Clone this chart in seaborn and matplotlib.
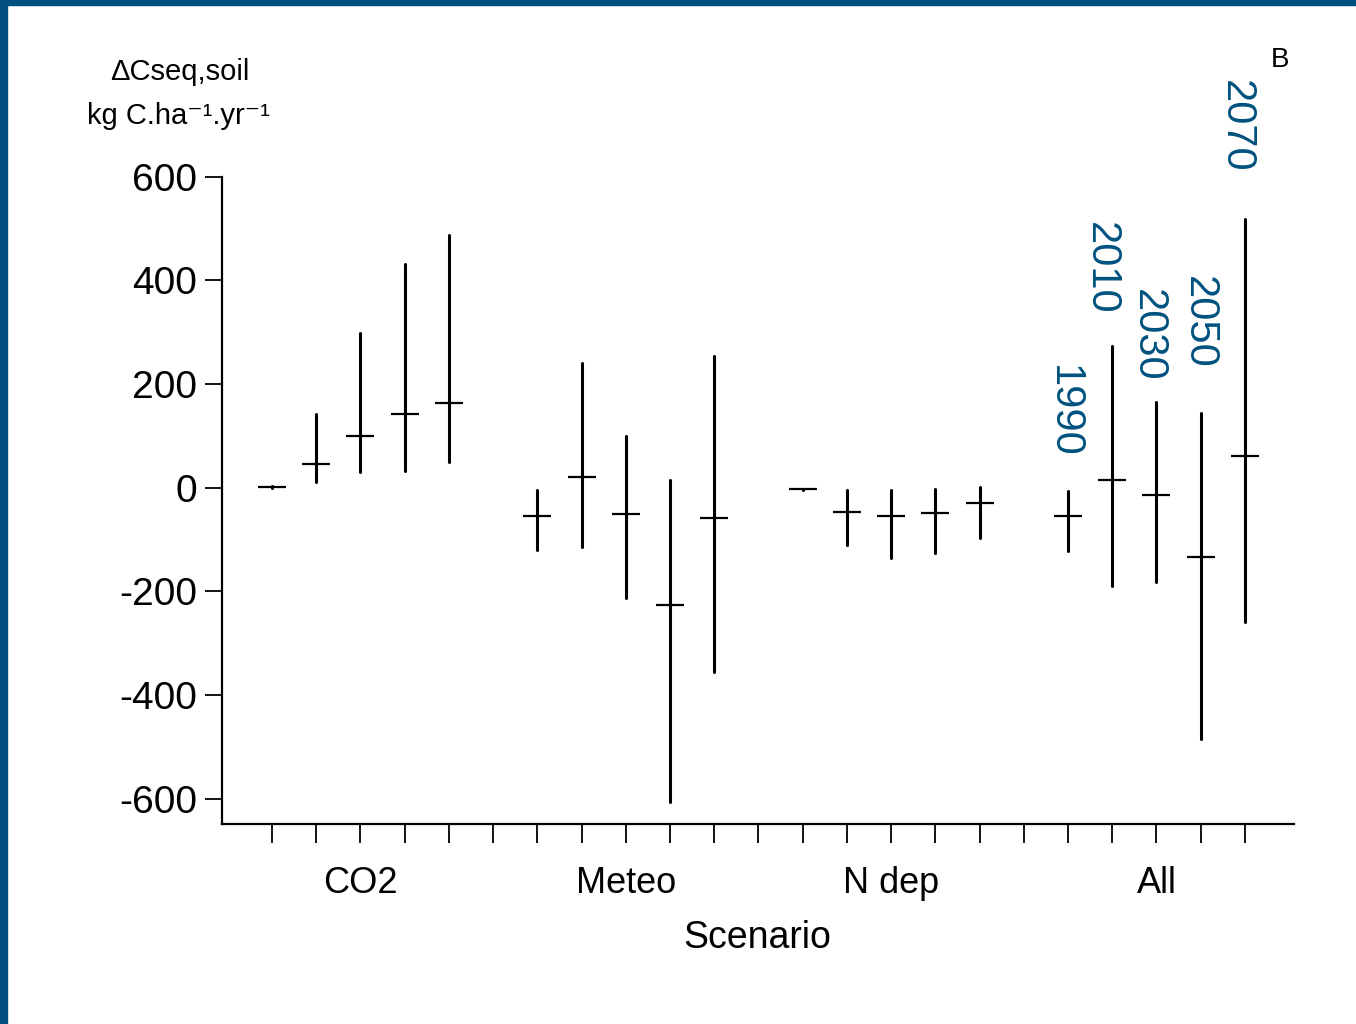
import numpy as np
import pandas as pd
import matplotlib.pyplot as plt
import seaborn as sns
from matplotlib.patches import Rectangle

# values (kg C/ha/yr)
groups = ["CO2", "Meteo", "N dep", "All"]

co2_mid = [2, 46, 99, 142, 164]
co2_low = [0, 11, 30, 33, 50]
co2_high = [3, 142, 299, 432, 488]

meteo_mid = [-54, 21, -50, -226, -59]
meteo_low = [-121, -115, -213, -606, -355]
meteo_high = [-5, 241, 99, 14, 254]

ndep_mid = [-3, -46, -54, -48, -30]
ndep_low = [-4, -110, -136, -126, -97]
ndep_high = [-2, -5, -5, -3, 1]

all_mid = [-55, 15, -15, -134, 61]
all_low = [-123, -189, -182, -484, -260]
all_high = [-6, 273, 166, 145, 519]

years = ["1990", "2010", "2030", "2050", "2070"]

y_ticks = [-600, -400, -200, 0, 200, 400, 600]

sns.set_style("ticks", {"axes.edgecolor": "black", "text.color": "black",
                        "xtick.color": "black", "ytick.color": "black",
                        "axes.labelcolor": "black"})
plt.rcParams["font.family"] = ["Liberation Sans", "DejaVu Sans"]
plt.rcParams["axes.unicode_minus"] = False

mids = [co2_mid, meteo_mid, ndep_mid, all_mid]
lows = [co2_low, meteo_low, ndep_low, all_low]
highs = [co2_high, meteo_high, ndep_high, all_high]

rows = []
for g, name in enumerate(groups):
    for k in range(5):
        rows.append({"group": name, "pos": g * 6 + k, "mid": mids[g][k],
                     "low": lows[g][k], "high": highs[g][k]})
df = pd.DataFrame(rows)
ranges = df.melt(id_vars=["group", "pos"], value_vars=["low", "high"], value_name="value")

fig = plt.figure(figsize=(13.56, 10.24), dpi=100)
ax = fig.add_axes([0.1637, 0.1953, 0.7906, 0.6321])

# min-max ranges as vertical segments, mean as a short horizontal dash
sns.lineplot(data=ranges, x="pos", y="value", units="pos", estimator=None,
             sort=False, color="black", lw=2.2, ax=ax, legend=False)
sns.scatterplot(data=df, x="pos", y="mid", marker="_", s=420, color="black",
                linewidth=1.6, ax=ax, legend=False, zorder=3)

# year labels above the "All" scenario
label_dx = [-0.09, -0.26, -0.19, -0.04, -0.2]
label_y = [57, 333, 205, 230, 607]
all_pos = df.loc[df["group"] == "All", "pos"].to_list()
for p, yr, dx, ly in zip(all_pos, years, label_dx, label_y):
    ax.text(p + dx, ly, yr, rotation=270, ha="center", va="bottom",
            fontsize=30, color="#00527f", clip_on=False)

ax.set_xlim(-1.13, 23.11)
ax.set_ylim(-649, 600)
ax.set_yticks(y_ticks)
ax.set_yticklabels([str(v) for v in y_ticks])

xt = list(range(23))
xl = [""] * 23
for g, name in enumerate(groups):
    xl[g * 6 + 2] = name
ax.set_xticks(xt)
ax.set_xticklabels(xl)

ax.tick_params(axis="y", length=12, width=1.3, pad=6, labelsize=28)
ax.tick_params(axis="x", length=14, width=1.3, pad=16, labelsize=26)
for s in ["top", "right"]:
    ax.spines[s].set_visible(False)
for s in ["left", "bottom"]:
    ax.spines[s].set_linewidth(1.6)

ax.set_xlabel("Scenario", fontsize=27)
ax.xaxis.set_label_coords(0.499, -0.149)
ax.xaxis.label.set_va("top")
ax.set_ylabel("")

fig.text(0.1327, 0.9219, "ΔCseq,soil", ha="center", va="baseline", fontsize=21)
fig.text(0.1313, 0.8789, "kg C.ha⁻¹.yr⁻¹", ha="center", va="baseline", fontsize=21)
fig.text(0.944, 0.9414, "B", ha="center", va="center", fontsize=20)

# dark blue frame on the left and top edges
border = "#004f7c"
fig.patches.append(Rectangle((0, 0), 7 / 1356, 1, transform=fig.transFigure,
                             color=border, zorder=10))
fig.patches.append(Rectangle((0, 1 - 5 / 1024), 1, 5 / 1024, transform=fig.transFigure,
                             color=border, zorder=10))

fig.savefig("out.png", dpi=100, facecolor="white")
